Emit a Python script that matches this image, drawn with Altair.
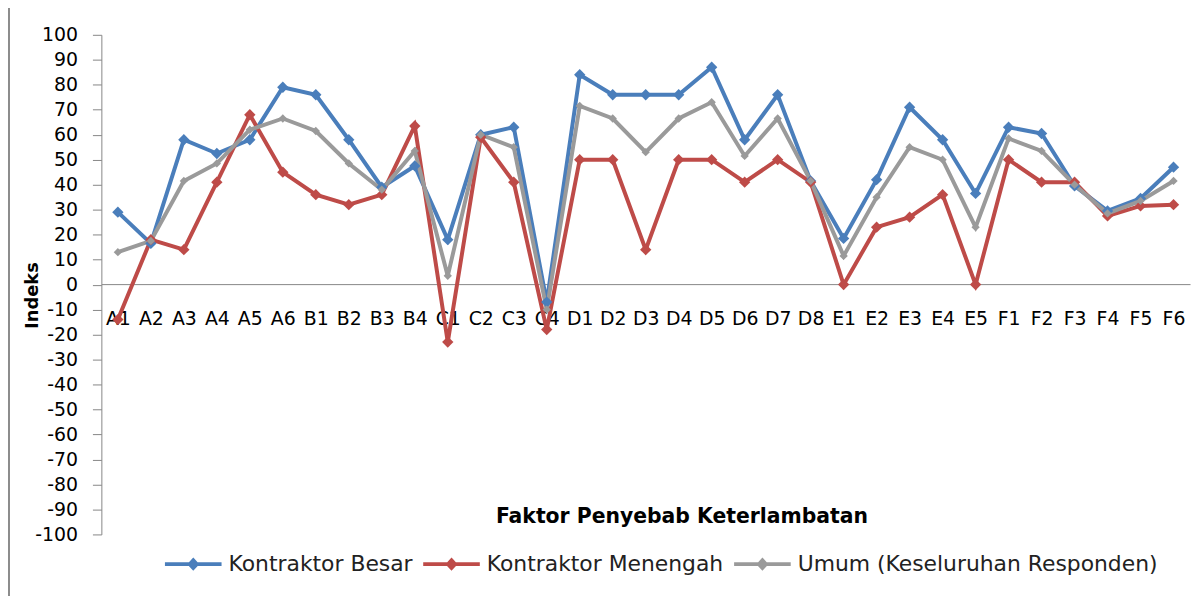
import altair as alt
import pandas as pd

categories = ["A1","A2","A3","A4","A5","A6","B1","B2","B3","B4","C1","C2","C3","C4",
              "D1","D2","D3","D4","D5","D6","D7","D8","E1","E2","E3","E4","E5",
              "F1","F2","F3","F4","F5","F6"]
besar = [29,16.5,58,52.5,58,79,76,58,39,47.5,18,60,63,-7,84,76,76,76,87,58,76,41.5,
         18.5,42,71,58,36.5,63,60.5,39.5,29.5,34.5,47]
menengah = [-14,18,14,41,68,45,36,32,36,63.5,-23,59,41,-18,50,50,14,50,50,41,50,41,
            0,23,27,36,0,50,41,41,27.5,31.5,32]
umum = [13,17.5,41.5,48.5,62,66.5,61.5,48.5,38,53.5,3.5,60,55,-10,71.5,66.5,53,66.5,73,51.5,66.5,41.5,
        11.5,35,55,50,23,58.5,53.5,40,28.5,33.5,41.5]
series = ["Kontraktor Besar", "Kontraktor Menengah", "Umum (Keseluruhan Responden)"]
colors = ["#4A7EBB", "#BE4B48", "#9A9A9A"]
marker_sizes = [130, 130, 70]
y_ticks = list(range(-100, 101, 10))

rows = []
for name, vals in zip(series, [besar, menengah, umum]):
    for c, v in zip(categories, vals):
        rows.append({"faktor": c, "indeks": v, "seri": name})
df = pd.DataFrame(rows)

FONT = "DejaVu Sans"
leg_path = "M-1,0H1M0,-0.13L0.12,0L0,0.13L-0.12,0Z"

x_enc = alt.X("faktor:N", sort=categories, scale=alt.Scale(type="point", padding=0.5),
              axis=alt.Axis(title="Faktor Penyebab Keterlambatan", labelAngle=0, ticks=False,
                            offset=-252, labelPadding=26, labelFontSize=19, labelFont=FONT,
                            labelColor="#000", labelOverlap=False, grid=False,
                            domainColor="#868686", domainWidth=1,
                            titleFont=FONT, titleFontSize=20.5, titleFontWeight="bold",
                            titleX=584, titleY=234, titleBaseline="middle", titleColor="#000")
              )
y_enc = alt.Y("indeks:Q", scale=alt.Scale(domain=[-100, 100], nice=False, zero=False),
              axis=alt.Axis(values=y_ticks, title="Indeks", grid=False, tickSize=9,
                            labelOverlap=False, labelExpr="'' + datum.value",
                            tickColor="#868686", domainColor="#868686", labelPadding=15,
                            labelFontSize=19, labelFont=FONT, labelColor="#000",
                            titleFont=FONT, titleFontSize=18, titleFontWeight="bold",
                            titleAngle=-90, titleX=-69, titleY=262, titleAlign="center",
                            titleBaseline="middle", titleColor="#000"))
color_scale = alt.Scale(domain=series, range=colors)
leg = alt.Legend(orient="none", legendX=62, legendY=502, direction="horizontal",
                 columns=3, title=None, symbolType=leg_path, symbolSize=3249,
                 symbolStrokeWidth=3.5, labelLimit=0,
                 labelFontSize=22, labelFont=FONT, labelColor="#222",
                 columnPadding=2, labelOffset=5)

lines = alt.Chart(df).mark_line().encode(
    color=alt.Color("seri:N", scale=color_scale, sort=series, legend=leg),
    strokeWidth=alt.StrokeWidth("seri:N", sort=series,
                                scale=alt.Scale(domain=series, range=[4, 4, 2]), legend=leg),
)

point_layers = []
for name, col, sz in zip(series, colors, marker_sizes):
    point_layers.append(
        alt.Chart(df).transform_filter(alt.datum.seri == name)
        .mark_point(shape="diamond", filled=True, opacity=1, color=col, size=sz)
    )

data_layers = alt.layer(lines, *point_layers).encode(x=x_enc, y=y_enc)

border = alt.Chart(alt.Data(values=[{}])).mark_rule(color="#8C8C8C", strokeWidth=2).encode(
    x=alt.value(-93), y=alt.value(-40), y2=alt.value(600))

chart = alt.layer(border, data_layers).properties(
    width=1096, height=503, background="white",
    padding={"left": 94, "top": 25, "right": 3, "bottom": 60},
    autosize=alt.AutoSizeParams(type="none"),
).configure(
    view=alt.ViewConfig(stroke="transparent", strokeWidth=0),
    style={"cell": {"stroke": "transparent", "strokeWidth": 0}},
    axis=alt.AxisConfig(grid=False),
)

chart.save("out.html", embed_options={"renderer": "svg", "actions": False})
